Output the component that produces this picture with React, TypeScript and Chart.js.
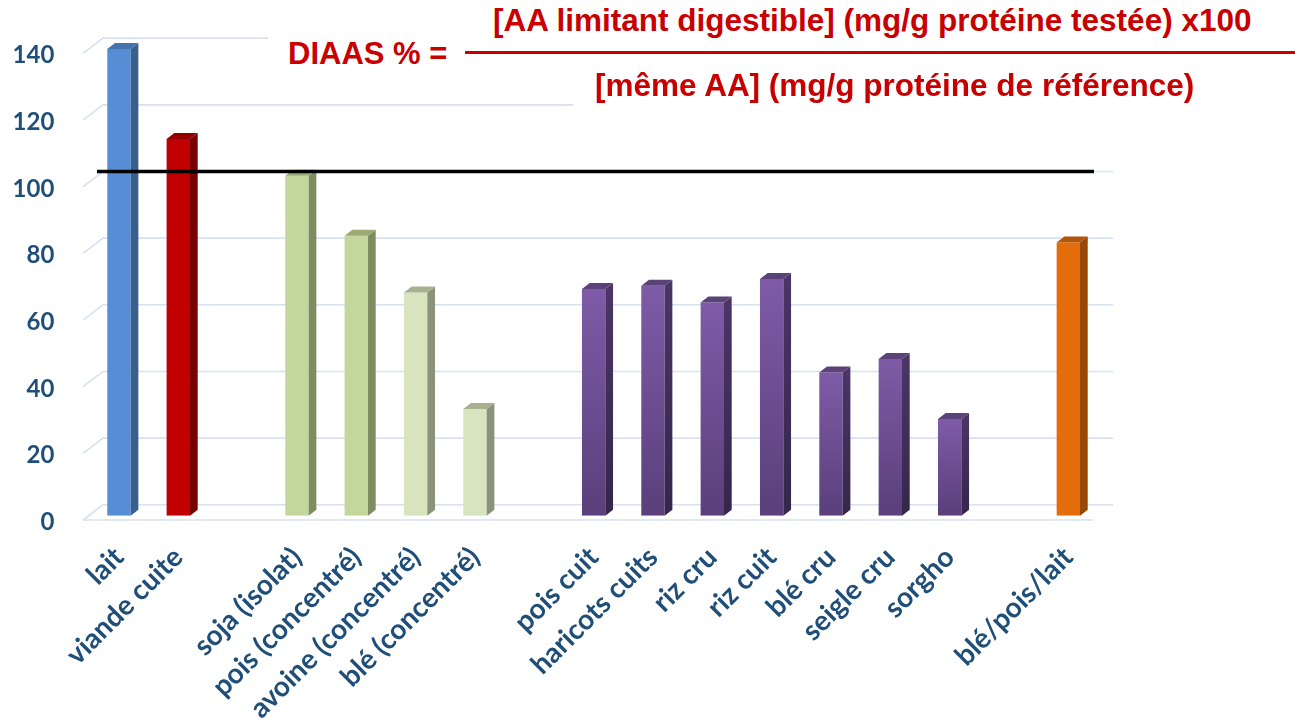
import React, { useEffect, useRef } from "react";
import { Chart, registerables } from "chart.js";

Chart.register(...registerables);

// ---------- data ----------
const categories = [
  "lait",
  "viande cuite",
  "",
  "soja (isolat)",
  "pois (concentré)",
  "avoine (concentré)",
  "blé (concentré)",
  "",
  "pois cuit",
  "haricots cuits",
  "riz cru",
  "riz cuit",
  "blé cru",
  "seigle cru",
  "sorgho",
  "",
  "blé/pois/lait",
];
const diaasValues: (number | null)[] = [
  140, 113, null, 102, 84, 67, 32, null, 68, 69, 64, 71, 43, 47, 29, null, 82,
];
const referenceValue = 100;
const yTickValues = [0, 20, 40, 60, 80, 100, 120, 140];
const formulaLabel = "DIAAS % =";
const formulaNumerator = "[AA limitant digestible] (mg/g protéine testée) x100";
const formulaDenominator = "[même AA] (mg/g protéine de référence)";

// ---------- styles ----------
type Face = { front: string | [string, string]; side: string | [string, string]; top: string };
const BLUE: Face = { front: "#558ed5", side: "#3a5e8e", top: "#4573ad" };
const RED: Face = { front: "#c00000", side: "#760000", top: "#930000" };
const GREEN: Face = { front: "#c3d69b", side: "#7f8c62", top: "#9aab76" };
const PALE: Face = { front: "#d7e4bd", side: "#8a927a", top: "#a7b18f" };
const PURPLE: Face = { front: ["#7f5ba7", "#5a3f7b"], side: ["#4a3566", "#35264a"], top: "#5b4379" };
const ORANGE: Face = { front: "#e46c0a", side: "#974706", top: "#b35607" };
const barFaces: (Face | null)[] = [
  BLUE, RED, null, GREEN, GREEN, PALE, PALE, null,
  PURPLE, PURPLE, PURPLE, PURPLE, PURPLE, PURPLE, PURPLE, null, ORANGE,
];

const AXIS_COLOR = "#1f4e79";
const GRID_COLOR = "#d6e1f1";
const FORMULA_RED = "#c80000";
const Y_MAX = 145;
const BAR_DX = 7.7;
const BAR_DY = -6;
const FRONT_OFF = 4.3;
const WALL_OFF = -10.9;
const WALL_DX = 13.7;
const FRONT_DX = -6.3;

function vGrad(ctx: CanvasRenderingContext2D, c: string | [string, string], top: number, base: number) {
  if (typeof c === "string") return c;
  const g = ctx.createLinearGradient(0, top, 0, base);
  g.addColorStop(0, c[0]);
  g.addColorStop(1, c[1]);
  return g;
}

const plot3d = {
  id: "plot3d",
  beforeDatasetsDraw(chart: any) {
    const { ctx, chartArea } = chart;
    const y = chart.scales.y;
    const fl = chartArea.left + FRONT_DX;
    const fr = chartArea.right - 5;
    const wl = chartArea.left + WALL_DX;
    const wr = chartArea.right + 15;
    ctx.save();
    ctx.strokeStyle = GRID_COLOR;
    ctx.lineWidth = 1.6;
    yTickValues.forEach((v) => {
      const py = y.getPixelForValue(v);
      ctx.beginPath();
      ctx.moveTo(fl, py + FRONT_OFF);
      ctx.lineTo(wl, py + WALL_OFF);
      ctx.lineTo(wr, py + WALL_OFF);
      ctx.stroke();
    });
    const p0 = y.getPixelForValue(0) + FRONT_OFF;
    ctx.beginPath();
    ctx.moveTo(fl, p0);
    ctx.lineTo(fr, p0);
    ctx.stroke();
    ctx.restore();
  },
  afterDatasetsDraw(chart: any) {
    const { ctx } = chart;
    const meta = chart.getDatasetMeta(0);
    ctx.save();
    meta.data.forEach((el: any, i: number) => {
      const f = barFaces[i];
      if (!f || diaasValues[i] == null) return;
      const { x, y, base, width } = el.getProps(["x", "y", "base", "width"], true);
      const l = x - width / 2;
      const r = x + width / 2;
      ctx.fillStyle = vGrad(ctx, f.side, y, base);
      ctx.beginPath();
      ctx.moveTo(r, y);
      ctx.lineTo(r + BAR_DX, y + BAR_DY);
      ctx.lineTo(r + BAR_DX, base + BAR_DY);
      ctx.lineTo(r, base);
      ctx.closePath();
      ctx.fill();
      ctx.fillStyle = f.top;
      ctx.beginPath();
      ctx.moveTo(l, y);
      ctx.lineTo(l + BAR_DX, y + BAR_DY);
      ctx.lineTo(r + BAR_DX, y + BAR_DY);
      ctx.lineTo(r, y);
      ctx.closePath();
      ctx.fill();
    });
    ctx.restore();
  },
  afterDraw(chart: any) {
    const { ctx, chartArea } = chart;
    const py = chart.scales.y.getPixelForValue(referenceValue) + WALL_OFF;
    ctx.save();
    ctx.strokeStyle = "#000000";
    ctx.lineWidth = 3.5;
    ctx.beginPath();
    ctx.moveTo(chartArea.left + 7.7, py);
    ctx.lineTo(chartArea.right - 4, py);
    ctx.stroke();
    ctx.restore();
  },
};

export default function App() {
  const canvasRef = useRef<HTMLCanvasElement | null>(null);

  useEffect(() => {
    if (!canvasRef.current) return;
    const chart = new Chart(canvasRef.current, {
      type: "bar",
      data: {
        labels: categories,
        datasets: [
          {
            data: diaasValues as any,
            backgroundColor: (c: any) => {
              const f = barFaces[c.dataIndex];
              if (!f) return "transparent";
              const ys = c.chart.scales?.y;
              const v = c.raw;
              if (typeof f.front === "string") return f.front;
              if (!ys || v == null) return f.front[0];
              return vGrad(c.chart.ctx, f.front, ys.getPixelForValue(v), ys.getPixelForValue(0));
            },
            borderWidth: 0,
            barPercentage: 0.394,
            categoryPercentage: 1,
          },
        ],
      },
      options: {
        animation: false,
        responsive: true,
        maintainAspectRatio: false,
        layout: { padding: { left: 0, right: 197, top: 32.4, bottom: 0 } },
        plugins: { legend: { display: false }, tooltip: { enabled: false }, title: { display: false } },
        scales: {
          x: {
            type: "category",
            offset: true,
            grid: { display: false, drawTicks: false },
            border: { display: false },
            ticks: {
              autoSkip: false,
              minRotation: 45,
              maxRotation: 45,
              padding: 25,
              color: AXIS_COLOR,
              font: { family: "Lato", weight: "bold", size: 28 },
            },
            afterFit: (s: any) => {
              s.height = 727 - 515.7;
            },
          },
          y: {
            min: 0,
            max: Y_MAX,
            bounds: "data",
            grid: { display: false, drawTicks: false },
            border: { display: false },
            ticks: {
              stepSize: 20,
              includeBounds: false,
              padding: 35,
              labelOffset: 6.5,
              color: AXIS_COLOR,
              font: { family: "Lato", weight: "bold", size: 24 },
            },
            afterBuildTicks: (s: any) => {
              s.ticks = yTickValues.map((v) => ({ value: v }));
              s.min = 0;
              s.max = Y_MAX;
            },
            afterFit: (s: any) => {
              s.width = 89.3;
              s.paddingTop = 0;
              s.paddingBottom = 0;
            },
          },
        },
      },
      plugins: [plot3d],
    });
    return () => chart.destroy();
  }, []);

  const textBase: React.CSSProperties = {
    position: "absolute",
    fontFamily: '"Liberation Sans", Arial, sans-serif',
    fontWeight: "bold",
    color: FORMULA_RED,
    lineHeight: 1,
    whiteSpace: "nowrap",
    margin: 0,
  };

  return (
    <div style={{ position: "absolute", left: 0, top: 0, width: 1295, height: 727, background: "#ffffff", overflow: "hidden" }}>
      <canvas ref={canvasRef} />
      <div style={{ position: "absolute", left: 268, top: 0, width: 1027, height: 76, background: "#ffffff" }} />
      <div style={{ position: "absolute", left: 573, top: 76, width: 722, height: 36, background: "#ffffff" }} />
      <div style={{ ...textBase, left: 288, top: 37.8, fontSize: 31 }}>{formulaLabel}</div>
      <div style={{ position: "absolute", left: 465, top: 50.5, width: 830, height: 3.5, background: FORMULA_RED }} />
      <div style={{ ...textBase, left: 493, top: 5.3, fontSize: 31.5 }}>{formulaNumerator}</div>
      <div style={{ ...textBase, left: 595, top: 70.3, fontSize: 31.5 }}>{formulaDenominator}</div>
    </div>
  );
}
